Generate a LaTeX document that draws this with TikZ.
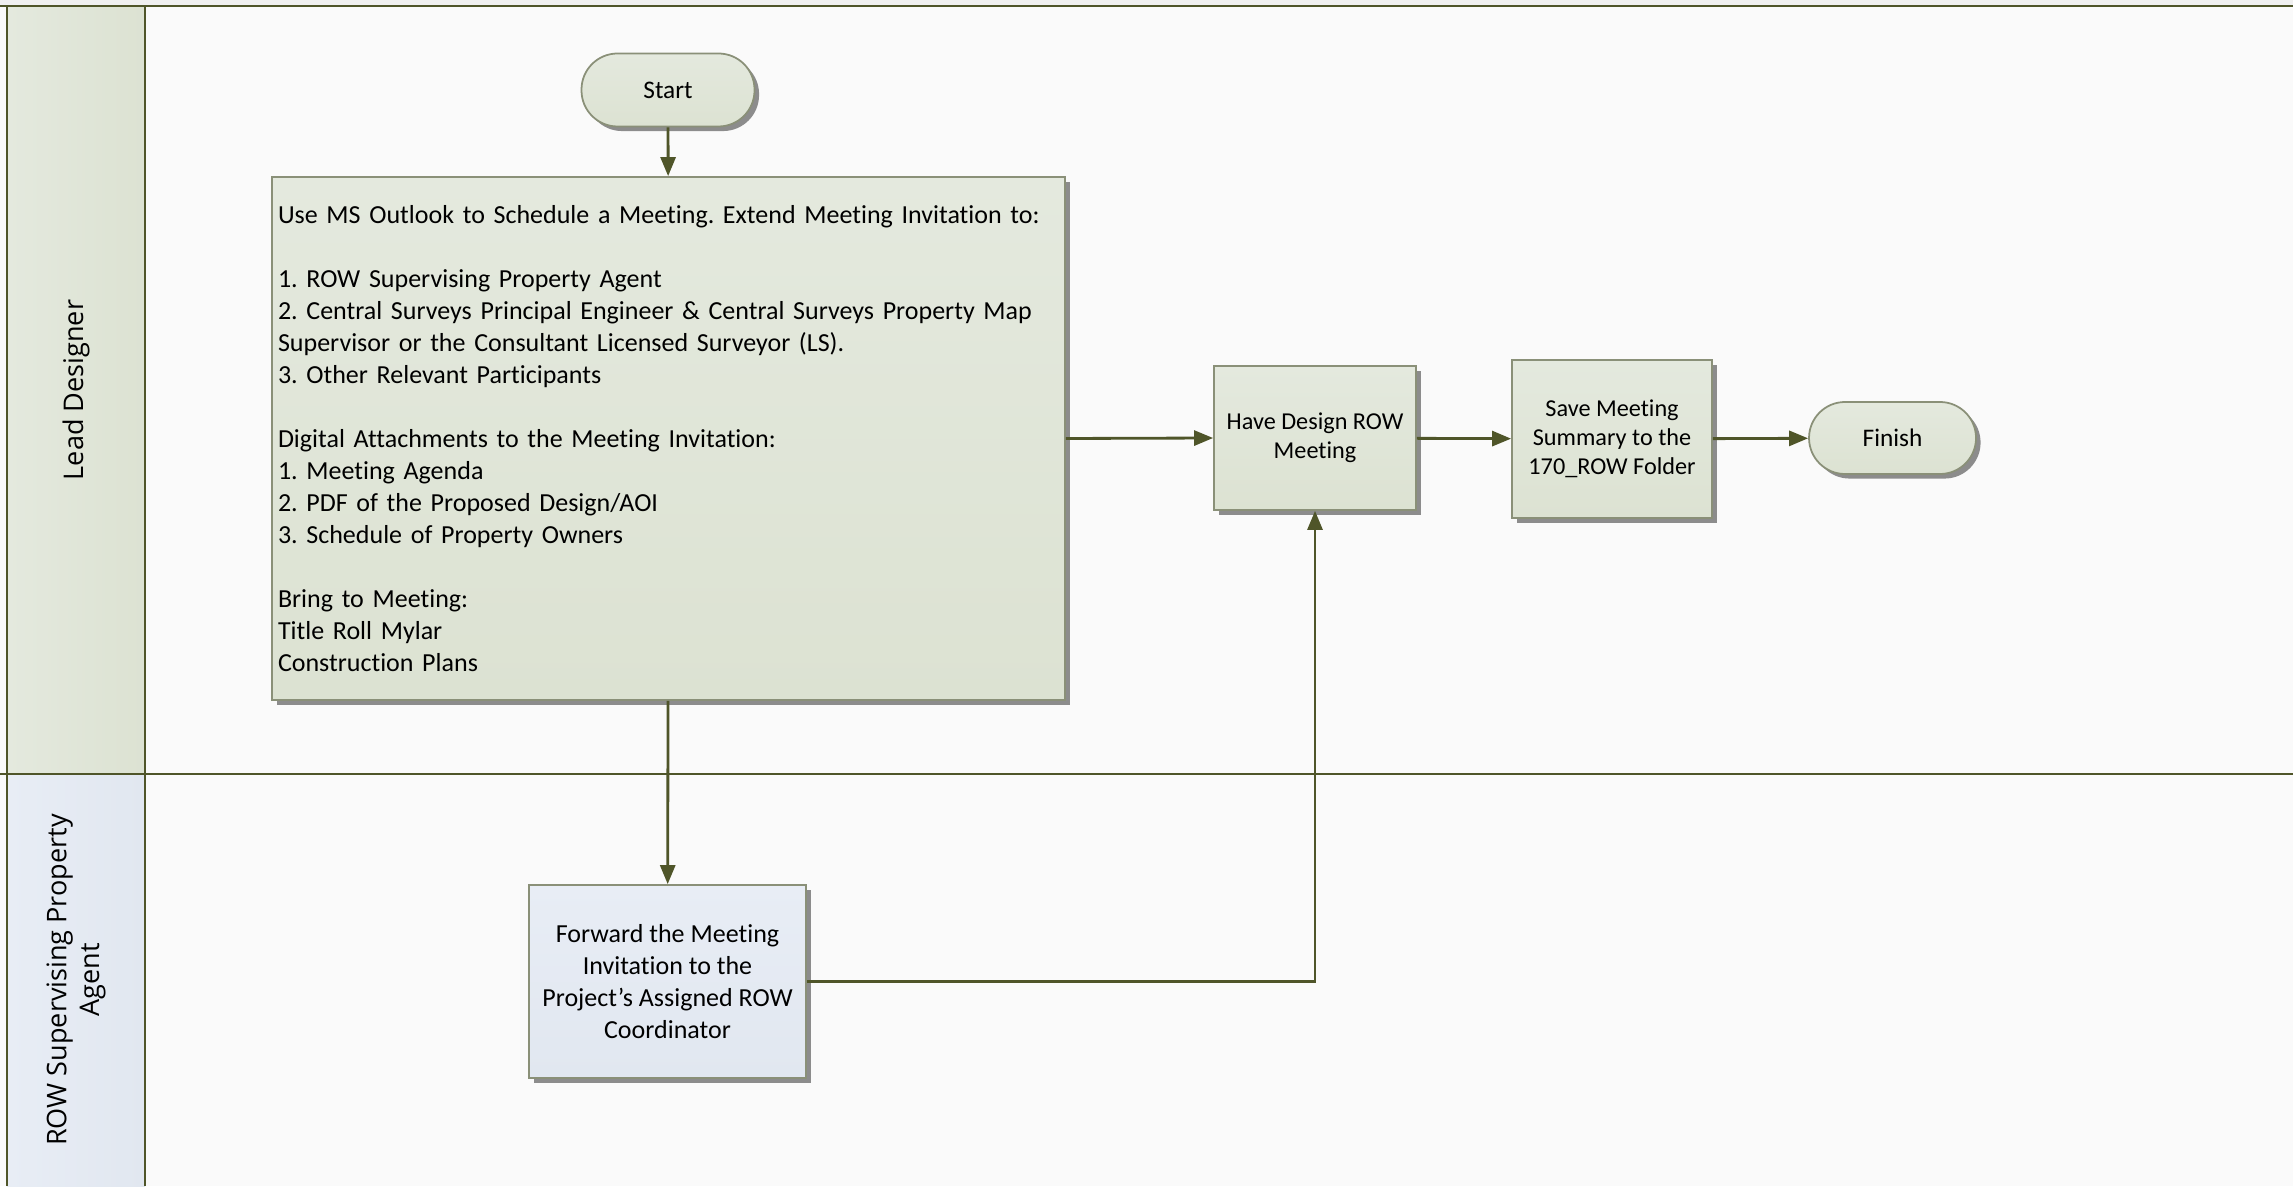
\documentclass[tikz,border=0pt]{standalone}
\usepackage{fontspec}
\setmainfont{Carlito}[Ligatures=NoCommon]
\newfontfamily\lanefont{Open Sans}
\usetikzlibrary{arrows.meta,shadows}
\definecolor{laneline}{HTML}{4F5529}
\definecolor{boxline}{HTML}{8A9078}
\definecolor{greentop}{HTML}{E4E9DE}
\definecolor{greenbot}{HTML}{DCE2D2}
\definecolor{bluetop}{HTML}{E8EDF5}
\definecolor{bluebot}{HTML}{E1E7F0}
\definecolor{paper}{HTML}{FAFAFA}
\frenchspacing

\begin{document}
\begin{tikzpicture}[
    task/.style={draw=boxline,line width=.5pt,top color=greentop,bottom color=greenbot,
      drop shadow={shadow xshift=1.3pt,shadow yshift=-1.3pt,fill=black!45,opacity=1},
      inner sep=0pt,align=center},
    agenttask/.style={task,top color=bluetop,bottom color=bluebot},
    terminal/.style={task,rounded corners=0.36cm},
    flow/.style={laneline,line width=.8pt,-{Triangle[length=0.19cm,width=0.15cm]}},
    lane/.style={laneline,line width=.75pt}]
    \useasboundingbox(0,0) rectangle (22.93,11.86);
    \fill[paper](0,0) rectangle (22.93,11.86);
    \fill[black!6](0,11.80) rectangle (22.93,11.86);
    % swimlane headers
    \shade[left color=greentop,right color=greenbot](0.07,4.12) rectangle (1.45,11.80);
    \shade[left color=bluetop,right color=bluebot](0.07,0) rectangle (1.45,4.12);
    \draw[lane](0,11.80)--(22.93,11.80) (0,4.12)--(22.93,4.12)
      (0.07,0)--(0.07,11.80) (1.45,0)--(1.45,11.80);
    \node[rotate=90,font=\lanefont\fontsize{7.7}{9.3}\selectfont] (designer) at (0.76,7.96) {Lead Designer};
    \node[rotate=90,align=center,font=\lanefont\fontsize{7.7}{9.3}\selectfont] (agent) at (0.76,2.06)
      {ROW Supervising Property\\Agent};
    % steps
    \node[terminal,minimum width=1.73cm,minimum height=0.73cm,font=\fontsize{7.2}{8.6}\selectfont]
      (start) at (6.68,10.96) {Start};
    \node[task,minimum width=7.93cm,minimum height=5.23cm,text width=7.81cm,align=left,
      font=\fontsize{7.4}{9.1}\selectfont] (invite) at (6.685,7.475)
      {Use MS Outlook to Schedule a Meeting. Extend Meeting Invitation to:\\~\\
       1. ROW Supervising Property Agent\\
       2. Central Surveys Principal Engineer \& Central Surveys Property Map\\
       Supervisor or the Consultant Licensed Surveyor (LS).\\
       3. Other Relevant Participants\\~\\
       Digital Attachments to the Meeting Invitation:\\
       1. Meeting Agenda\\
       2. PDF of the Proposed Design/AOI\\
       3. Schedule of Property Owners\\~\\
       Bring to Meeting:\\
       Title Roll Mylar\\
       Construction Plans};
    \node[task,minimum width=2.02cm,minimum height=1.44cm,font=\fontsize{6.9}{8.3}\selectfont]
      (meeting) at (13.15,7.48) {Have Design ROW\\Meeting};
    \node[task,minimum width=2.0cm,minimum height=1.58cm,font=\fontsize{6.9}{8.3}\selectfont]
      (summary) at (16.12,7.47) {Save Meeting\\Summary to the\\170\_ROW Folder};
    \node[terminal,minimum width=1.67cm,minimum height=0.72cm,font=\fontsize{7.2}{8.6}\selectfont]
      (finish) at (18.925,7.48) {Finish};
    \node[agenttask,minimum width=2.77cm,minimum height=1.93cm,font=\fontsize{7.4}{9.1}\selectfont]
      (forward) at (6.675,2.045) {Forward the Meeting\\Invitation to the\\Project’s Assigned ROW\\Coordinator};
    % connectors
    \draw[flow](start)--(invite);
    \draw[flow](invite)--(forward);
    \draw[flow](invite.east)--(meeting.west);
    \draw[flow](meeting)--(summary);
    \draw[flow](summary)--(finish);
    \draw[flow](forward.east)-|(meeting.south);
\end{tikzpicture}
\end{document}
